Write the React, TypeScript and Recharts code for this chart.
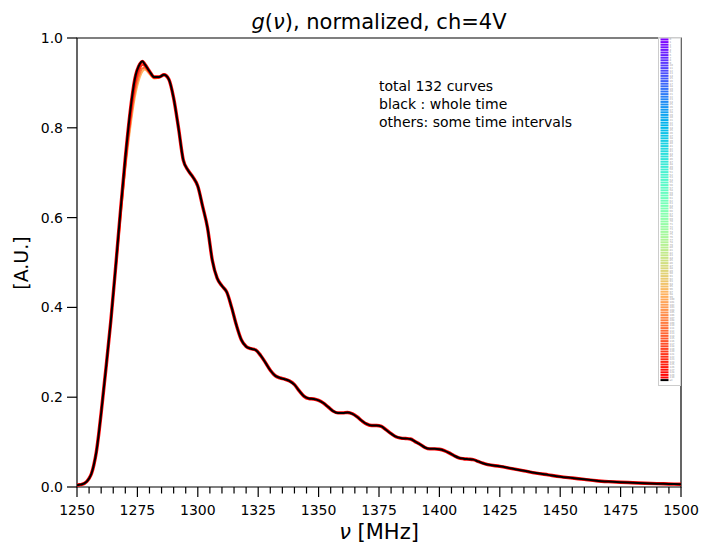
import React from 'react';
import { LineChart, Line, XAxis, YAxis, Legend, ReferenceArea } from 'recharts';

// frequency grid [MHz] and the normalized g(nu)
const freq = [
  1250, 1251, 1252, 1253, 1254, 1255, 1256, 1257, 1258, 1259, 1260, 1261, 1262, 1264, 1266, 1268,
  1270, 1272, 1274, 1276, 1277, 1278, 1280, 1282, 1284, 1286, 1288, 1290, 1292, 1294, 1296, 1298,
  1300, 1302, 1304, 1306, 1308, 1310, 1312, 1314, 1316, 1318, 1320, 1322, 1324, 1326, 1328, 1330,
  1332, 1334, 1336, 1338, 1340, 1342, 1344, 1346, 1348, 1350, 1352, 1354, 1356, 1358, 1360, 1362,
  1364, 1366, 1368, 1370, 1372, 1374, 1376, 1378, 1380, 1382, 1384, 1386, 1388, 1390, 1392, 1394,
  1396, 1398, 1400, 1402, 1404, 1406, 1408, 1410, 1412, 1414, 1416, 1418, 1420, 1425, 1430, 1435,
  1440, 1445, 1450, 1455, 1460, 1465, 1470, 1475, 1480, 1485, 1490, 1495, 1500,
];
const wholeTime = [
  0.004, 0.005, 0.006, 0.008, 0.012, 0.019, 0.03, 0.05, 0.078, 0.118, 0.165, 0.215, 0.265, 0.37, 0.49, 0.615,
  0.733, 0.835, 0.91, 0.942, 0.948, 0.942, 0.926, 0.913, 0.913, 0.918, 0.908, 0.866, 0.8, 0.728, 0.705, 0.69,
  0.67, 0.625, 0.578, 0.505, 0.465, 0.448, 0.434, 0.4, 0.36, 0.328, 0.313, 0.308, 0.305, 0.293, 0.277, 0.26,
  0.248, 0.243, 0.24, 0.236, 0.228, 0.214, 0.202, 0.197, 0.196, 0.193, 0.187, 0.178, 0.169, 0.165, 0.165, 0.166,
  0.163, 0.156, 0.147, 0.14, 0.137, 0.137, 0.135, 0.127, 0.119, 0.112, 0.109, 0.108, 0.107, 0.101, 0.095, 0.088,
  0.085, 0.085, 0.084, 0.081, 0.076, 0.07, 0.065, 0.063, 0.062, 0.061, 0.057, 0.053, 0.05, 0.046, 0.041, 0.036,
  0.031, 0.027, 0.023, 0.02, 0.017, 0.014, 0.012, 0.0105, 0.0095, 0.0085, 0.0075, 0.0068, 0.006,
];

// the interval curves only separate visibly around the main peak
const peakFreq = [1266, 1268, 1270, 1272, 1274, 1276, 1277, 1278, 1280, 1282, 1284];
const orangeCurve = [0.488, 0.61, 0.722, 0.818, 0.893, 0.931, 0.94, 0.938, 0.924, 0.912, 0.913];
const yellowCurve = [0.486, 0.605, 0.715, 0.807, 0.88, 0.921, 0.932, 0.934, 0.922, 0.911, 0.912];
const greenCurve = [0.484, 0.6, 0.708, 0.798, 0.87, 0.913, 0.925, 0.93, 0.92, 0.91, 0.912];

const xTicks = Array.from({ length: 51 }, (_, i) => 1250 + i * 5);
const yTicks = [0, 0.2, 0.4, 0.6, 0.8, 1.0];
const nCurves = 131;

const mainData = freq.map((f, i) => ({ f, g: wholeTime[i] }));
const toRows = (vals: number[]) => peakFreq.map((f, i) => ({ f, g: vals[i] }));

// matplotlib "rainbow" colormap
const rainbow = (t: number) => {
  const r = Math.min(1, Math.abs(2 * t - 0.5));
  const g = Math.sin(Math.PI * t);
  const b = Math.cos((Math.PI * t) / 2);
  const h = (v: number) => Math.round(Math.max(0, v) * 255);
  return `rgb(${h(r)},${h(g)},${h(b)})`;
};
const legendColors = Array.from({ length: nCurves }, (_, i) => rainbow(i / (nCurves - 1)));

const font = 'DejaVu Sans, sans-serif';

const XTick = (props: any) => {
  const { x, y, payload } = props;
  const major = payload.value % 25 === 0;
  return (
    <g>
      <line x1={x} x2={x} y1={y} y2={y + (major ? 10 : 6.5)} stroke="#000" strokeWidth={1.2} />
      {major && (
        <text x={x} y={y + 28} textAnchor="middle" fontSize={14} fill="#000">
          {payload.value}
        </text>
      )}
    </g>
  );
};

const YTick = (props: any) => {
  const { x, y, payload } = props;
  return (
    <g>
      <line x1={x} x2={x - 10} y1={y} y2={y} stroke="#000" strokeWidth={1.2} />
      <text x={x - 14} y={y + 5} textAnchor="end" fontSize={14} fill="#000">
        {payload.value.toFixed(1)}
      </text>
    </g>
  );
};

const LegendColumn = () => (
  <svg width={23} height={350} style={{ display: 'block' }}>
    <rect x={0.5} y={0.5} width={22} height={348} fill="#fff" fillOpacity={0.8} stroke="#ccc" />
    {legendColors.map((c, i) => (
      <g key={i}>
        <line x1={2.5} x2={10.5} y1={2.5 + i * 2.6} y2={2.5 + i * 2.6} stroke={c} strokeWidth={2} />
        <text x={11.5} y={3.4 + i * 2.6} fontSize={2.6} fill="#999">
          {i}
        </text>
      </g>
    ))}
    <line x1={2.5} x2={10.5} y1={2.5 + nCurves * 2.6} y2={2.5 + nCurves * 2.6} stroke="#000" strokeWidth={2} />
    <text x={11.5} y={3.4 + nCurves * 2.6} fontSize={2.6} fill="#999">
      all
    </text>
  </svg>
);

export default function App() {
  return (
    <div style={{ position: 'absolute', left: 0, top: 0, fontFamily: font, background: '#fff' }}>
      <LineChart width={703} height={544} margin={{ top: 38, right: 22, bottom: 0, left: 0 }}>
        <XAxis
          dataKey="f"
          type="number"
          domain={[1250, 1500]}
          ticks={xTicks}
          interval={0}
          height={57}
          tickSize={0}
          tickMargin={0}
          axisLine={false}
          tickLine={false}
          tick={<XTick />}
          allowDataOverflow
        />
        <YAxis
          type="number"
          domain={[0, 1]}
          ticks={yTicks}
          interval={0}
          width={77}
          tickSize={0}
          tickMargin={0}
          axisLine={false}
          tickLine={false}
          tick={<YTick />}
          allowDataOverflow
        />
        <Line data={toRows(greenCurve)} dataKey="g" type="monotone" stroke={rainbow(0.75)} strokeWidth={2} dot={false} isAnimationActive={false} legendType="none" />
        <Line data={toRows(yellowCurve)} dataKey="g" type="monotone" stroke={rainbow(0.85)} strokeWidth={2} dot={false} isAnimationActive={false} legendType="none" />
        <Line data={toRows(orangeCurve)} dataKey="g" type="monotone" stroke={rainbow(0.93)} strokeWidth={2} dot={false} isAnimationActive={false} legendType="none" />
        <Line data={mainData} dataKey="g" type="monotone" stroke="#ff0000" strokeWidth={3.4} dot={false} isAnimationActive={false} legendType="none" />
        <Line data={mainData} dataKey="g" type="monotone" stroke="#000" strokeWidth={2} dot={false} isAnimationActive={false} legendType="none" />
        <ReferenceArea x1={1250} x2={1500} y1={0} y2={1} fill="none" stroke="#000" strokeWidth={1.2} />
        <Legend
          content={<LegendColumn />}
          layout="horizontal"
          verticalAlign="middle"
          align="center"
          wrapperStyle={{ left: 658, top: 37, width: 23, height: 350 }}
        />
        <text x={379} y={29} textAnchor="middle" fontSize={21} fill="#000">
          <tspan fontStyle="italic">g</tspan>(<tspan fontStyle="italic">ν</tspan>), normalized, ch=4V
        </text>
        <text x={379} y={539} textAnchor="middle" fontSize={21} fill="#000">
          <tspan fontStyle="italic">ν</tspan> [MHz]
        </text>
        <text x={28} y={263} textAnchor="middle" fontSize={19} fill="#000" transform="rotate(-90 28 263)">
          [A.U.]
        </text>
        <text x={379} y={91} fontSize={14} fill="#000">total 132 curves</text>
        <text x={379} y={109} fontSize={14} fill="#000">black : whole time</text>
        <text x={379} y={127} fontSize={14} fill="#000">others: some time intervals</text>
      </LineChart>
    </div>
  );
}
